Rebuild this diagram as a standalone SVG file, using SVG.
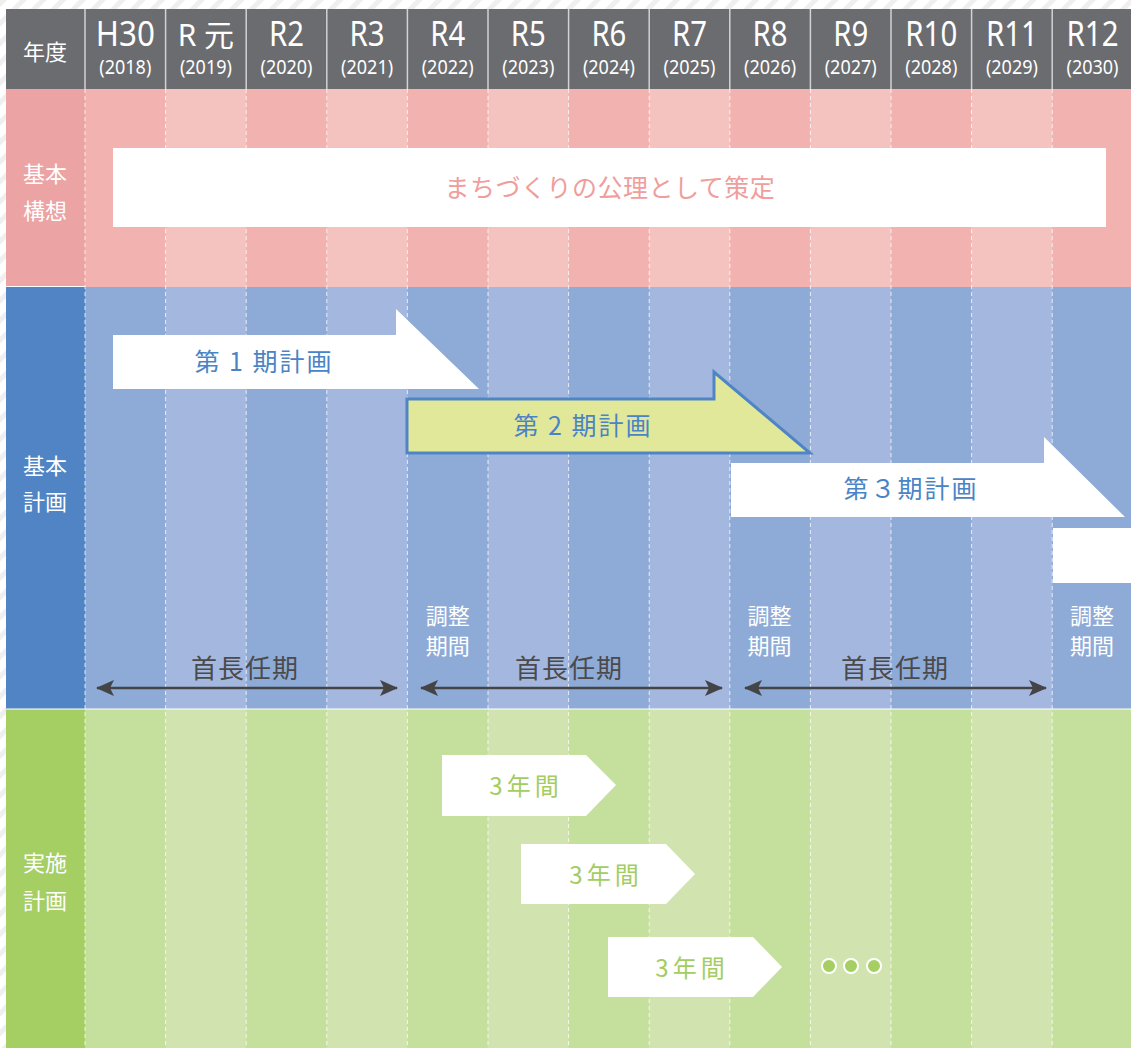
<svg xmlns="http://www.w3.org/2000/svg" width="1131" height="1048" viewBox="0 0 1131 1048">
<defs>
<pattern id="hatch" patternUnits="userSpaceOnUse" width="14" height="14" patternTransform="rotate(45)">
<rect x="0" y="0" width="5" height="14" fill="#efefef"/>
</pattern>
<marker id="ah" markerUnits="userSpaceOnUse" viewBox="0 0 18 16" refX="17" refY="8" markerWidth="18" markerHeight="16" orient="auto-start-reverse">
<path d="M0,0 L18,8 L0,16 L4,8 Z" fill="#444446"/>
</marker>
<style>
.jp{font-family:"Noto Sans CJK JP","Noto Sans",sans-serif;}
.hd{font-family:"Noto Sans","Noto Sans CJK JP",sans-serif;fill:#fff;text-anchor:middle;}
.big{font-size:34px;}
.sm{font-size:19px;}
.lab{font-family:"Noto Sans CJK JP",sans-serif;fill:#fff;font-size:22px;text-anchor:middle;}
.dash{stroke:#fff;stroke-opacity:0.75;stroke-width:1;stroke-dasharray:4 3;}
.hsep{stroke:#d2d2d4;stroke-width:1.5;}
.conn{stroke:#444446;stroke-width:2.5;fill:none;marker-start:url(#ah);marker-end:url(#ah);}
.ninkitxt{font-family:"Noto Sans CJK JP",sans-serif;fill:#4a4a4c;font-size:26px;text-anchor:middle;letter-spacing:1px;}
.blue{font-family:"Noto Sans CJK JP",sans-serif;fill:#4a84c6;font-size:25px;text-anchor:middle;letter-spacing:2px;}
.green{font-family:"Noto Sans CJK JP",sans-serif;fill:#a3cd62;font-size:24px;text-anchor:middle;letter-spacing:4px;}
</style>
</defs>
<rect width="1131" height="1048" fill="#fff"/>
<rect width="1131" height="1048" fill="url(#hatch)"/>

<g id="header">
<rect x="6" y="9" width="1125" height="80" fill="#6b6c70"/>
<text class="lab" x="45" y="60">年度</text>
<g class="hd">
<text class="big" x="125.3" y="46" textLength="59" lengthAdjust="spacingAndGlyphs">H30</text><text class="sm" x="125.3" y="74" textLength="52" lengthAdjust="spacingAndGlyphs">(2018)</text>
<text x="205.9" y="46" font-size="30">R 元</text><text class="sm" x="205.9" y="74" textLength="52" lengthAdjust="spacingAndGlyphs">(2019)</text>
<text class="big" x="286.5" y="46" textLength="35" lengthAdjust="spacingAndGlyphs">R2</text><text class="sm" x="286.5" y="74" textLength="52" lengthAdjust="spacingAndGlyphs">(2020)</text>
<text class="big" x="367.1" y="46" textLength="35" lengthAdjust="spacingAndGlyphs">R3</text><text class="sm" x="367.1" y="74" textLength="52" lengthAdjust="spacingAndGlyphs">(2021)</text>
<text class="big" x="447.7" y="46" textLength="35" lengthAdjust="spacingAndGlyphs">R4</text><text class="sm" x="447.7" y="74" textLength="52" lengthAdjust="spacingAndGlyphs">(2022)</text>
<text class="big" x="528.3" y="46" textLength="35" lengthAdjust="spacingAndGlyphs">R5</text><text class="sm" x="528.3" y="74" textLength="52" lengthAdjust="spacingAndGlyphs">(2023)</text>
<text class="big" x="608.9" y="46" textLength="35" lengthAdjust="spacingAndGlyphs">R6</text><text class="sm" x="608.9" y="74" textLength="52" lengthAdjust="spacingAndGlyphs">(2024)</text>
<text class="big" x="689.5" y="46" textLength="35" lengthAdjust="spacingAndGlyphs">R7</text><text class="sm" x="689.5" y="74" textLength="52" lengthAdjust="spacingAndGlyphs">(2025)</text>
<text class="big" x="770.1" y="46" textLength="35" lengthAdjust="spacingAndGlyphs">R8</text><text class="sm" x="770.1" y="74" textLength="52" lengthAdjust="spacingAndGlyphs">(2026)</text>
<text class="big" x="850.7" y="46" textLength="35" lengthAdjust="spacingAndGlyphs">R9</text><text class="sm" x="850.7" y="74" textLength="52" lengthAdjust="spacingAndGlyphs">(2027)</text>
<text class="big" x="931.3" y="46" textLength="52" lengthAdjust="spacingAndGlyphs">R10</text><text class="sm" x="931.3" y="74" textLength="52" lengthAdjust="spacingAndGlyphs">(2028)</text>
<text class="big" x="1011.9" y="46" textLength="52" lengthAdjust="spacingAndGlyphs">R11</text><text class="sm" x="1011.9" y="74" textLength="52" lengthAdjust="spacingAndGlyphs">(2029)</text>
<text class="big" x="1092.5" y="46" textLength="52" lengthAdjust="spacingAndGlyphs">R12</text><text class="sm" x="1092.5" y="74" textLength="52" lengthAdjust="spacingAndGlyphs">(2030)</text>
</g>
<g class="hsep">
<line x1="85" y1="9" x2="85" y2="89"/><line x1="165.6" y1="9" x2="165.6" y2="89"/><line x1="246.2" y1="9" x2="246.2" y2="89"/><line x1="326.8" y1="9" x2="326.8" y2="89"/><line x1="407.4" y1="9" x2="407.4" y2="89"/><line x1="488" y1="9" x2="488" y2="89"/><line x1="568.6" y1="9" x2="568.6" y2="89"/><line x1="649.2" y1="9" x2="649.2" y2="89"/><line x1="729.8" y1="9" x2="729.8" y2="89"/><line x1="810.4" y1="9" x2="810.4" y2="89"/><line x1="891" y1="9" x2="891" y2="89"/><line x1="971.6" y1="9" x2="971.6" y2="89"/><line x1="1052.2" y1="9" x2="1052.2" y2="89"/>
</g>
</g>

<g id="bands">
<rect x="6" y="89" width="79" height="198" fill="#eca3a3"/>
<rect x="85" y="89" width="1046" height="198" fill="#f2b2b0"/>
<g fill="#f4c2bf">
<rect x="165.6" y="89" width="80.6" height="198"/><rect x="326.8" y="89" width="80.6" height="198"/><rect x="488" y="89" width="80.6" height="198"/><rect x="649.2" y="89" width="80.6" height="198"/><rect x="810.4" y="89" width="80.6" height="198"/><rect x="971.6" y="89" width="80.6" height="198"/>
</g>
<rect x="6" y="287" width="79" height="422" fill="#5084c4"/>
<rect x="85" y="287" width="1046" height="422" fill="#8eabd7"/>
<g fill="#a4b8df">
<rect x="165.6" y="287" width="80.6" height="422"/><rect x="326.8" y="287" width="80.6" height="422"/><rect x="488" y="287" width="80.6" height="422"/><rect x="649.2" y="287" width="80.6" height="422"/><rect x="810.4" y="287" width="80.6" height="422"/><rect x="971.6" y="287" width="80.6" height="422"/>
</g>
<rect x="6" y="709" width="79" height="339" fill="#a5ce63"/>
<rect x="85" y="709" width="1046" height="339" fill="#c5df9c"/>
<g fill="#d1e4b0">
<rect x="165.6" y="709" width="80.6" height="339"/><rect x="326.8" y="709" width="80.6" height="339"/><rect x="488" y="709" width="80.6" height="339"/><rect x="649.2" y="709" width="80.6" height="339"/><rect x="810.4" y="709" width="80.6" height="339"/><rect x="971.6" y="709" width="80.6" height="339"/>
</g>
<line x1="6" y1="286.5" x2="85" y2="286.5" stroke="#fff" stroke-width="1"/>
<line x1="6" y1="709" x2="1131" y2="709" stroke="#fff" stroke-width="1.2"/>
<g class="dash">
<line x1="85" y1="89" x2="85" y2="1048"/><line x1="165.6" y1="89" x2="165.6" y2="1048"/><line x1="246.2" y1="89" x2="246.2" y2="1048"/><line x1="326.8" y1="89" x2="326.8" y2="1048"/><line x1="407.4" y1="89" x2="407.4" y2="1048"/><line x1="488" y1="89" x2="488" y2="1048"/><line x1="568.6" y1="89" x2="568.6" y2="1048"/><line x1="649.2" y1="89" x2="649.2" y2="1048"/><line x1="729.8" y1="89" x2="729.8" y2="1048"/><line x1="810.4" y1="89" x2="810.4" y2="1048"/><line x1="891" y1="89" x2="891" y2="1048"/><line x1="971.6" y1="89" x2="971.6" y2="1048"/><line x1="1052.2" y1="89" x2="1052.2" y2="1048"/>
</g>
<text class="lab" x="45" y="182">基本</text><text class="lab" x="45" y="219">構想</text>
<text class="lab" x="45" y="474">基本</text><text class="lab" x="45" y="510">計画</text>
<text class="lab" x="45" y="871">実施</text><text class="lab" x="45" y="909">計画</text>
</g>

<g id="kihon-koso">
<rect x="113" y="148" width="993" height="79" fill="#fff"/>
<text class="jp" x="610" y="197" font-size="25" fill="#ef9e9c" text-anchor="middle" letter-spacing="0.5">まちづくりの公理として策定</text>
</g>

<g id="plan1">
<polygon points="113,335 396,335 396,309 479,389 113,389" fill="#fff"/>
<text class="blue" x="264" y="371">第 1 期計画</text>
</g>
<g id="plan2">
<polygon points="407,399 714,399 714,372 810,453 407,453" fill="#e2e89a" stroke="#4f85c5" stroke-width="3" stroke-linejoin="miter"/>
<text class="blue" x="583" y="435">第 2 期計画</text>
</g>
<g id="plan3">
<polygon points="731,463 1044,463 1044,437 1125,517 731,517" fill="#fff"/>
<text class="blue" x="911" y="498">第３期計画</text>
</g>
<g id="plan-next">
<rect x="1053" y="528" width="78" height="55" fill="#fff"/>
</g>

<g id="chosei1"><text class="lab" x="447.7" y="624">調整</text><text class="lab" x="447.7" y="654">期間</text></g>
<g id="chosei2"><text class="lab" x="769.5" y="624">調整</text><text class="lab" x="769.5" y="654">期間</text></g>
<g id="chosei3"><text class="lab" x="1092" y="624">調整</text><text class="lab" x="1092" y="654">期間</text></g>

<g id="ninki1"><text class="ninkitxt" x="245" y="678">首長任期</text></g>
<g id="ninki2"><text class="ninkitxt" x="569" y="678">首長任期</text></g>
<g id="ninki3"><text class="ninkitxt" x="895" y="678">首長任期</text></g>

<g id="connectors">
<line class="conn" x1="97" y1="688" x2="397" y2="688"/>
<line class="conn" x1="421" y1="688" x2="722" y2="688"/>
<line class="conn" x1="745" y1="688" x2="1046" y2="688"/>
</g>

<g id="jisshi1">
<polygon points="442,755 586,755 616,785 586,816 442,816" fill="#fff"/>
<text class="green" x="526" y="795">3年間</text>
</g>
<g id="jisshi2">
<polygon points="521,844 666,844 695,874 666,904 521,904" fill="#fff"/>
<text class="green" x="606" y="884">3年間</text>
</g>
<g id="jisshi3">
<polygon points="608,937 753,937 782,967 753,997 608,997" fill="#fff"/>
<text class="green" x="692" y="977">3年間</text>
</g>
<g id="dots" fill="#a5ce63" stroke="#fff" stroke-width="2">
<circle cx="829" cy="966" r="7"/><circle cx="851" cy="966" r="7"/><circle cx="874" cy="966" r="7"/>
</g>
</svg>
